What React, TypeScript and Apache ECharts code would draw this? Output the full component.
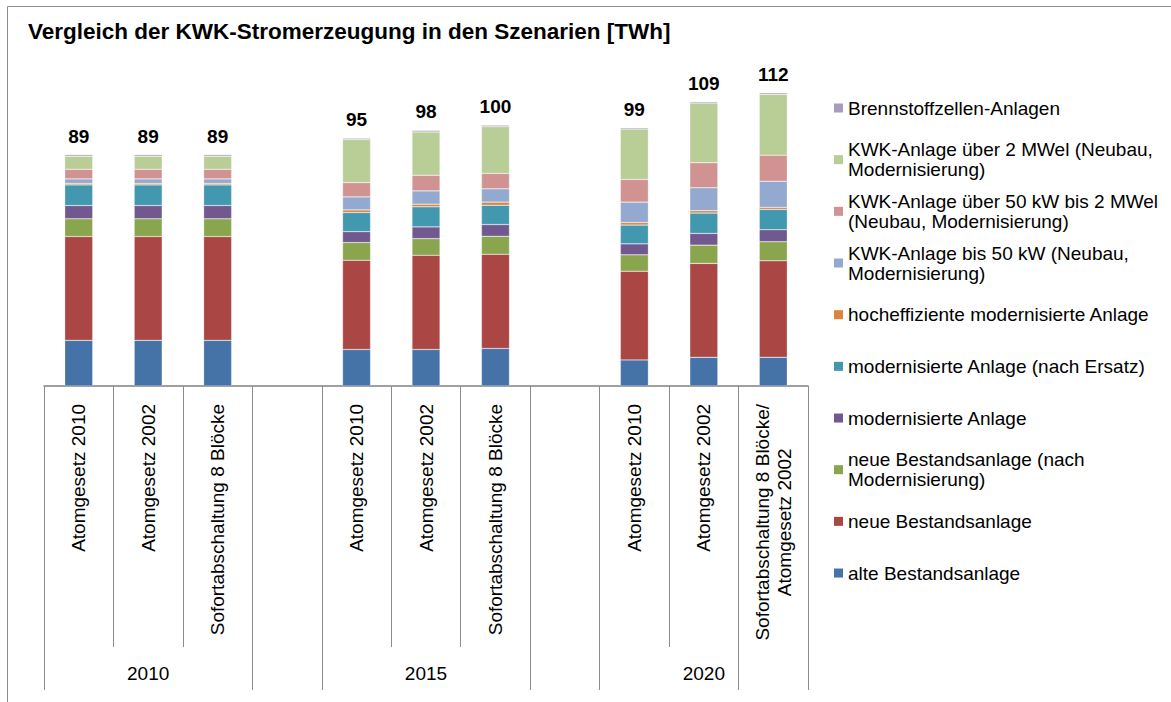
import React, { useEffect, useRef } from 'react';
import * as echarts from 'echarts';

const FONT = '"Liberation Sans", Arial, Helvetica, sans-serif';

const categories = [
  'Atomgesetz 2010', 'Atomgesetz 2002', 'Sofortabschaltung 8 Blöcke', '',
  'Atomgesetz 2010', 'Atomgesetz 2002', 'Sofortabschaltung 8 Blöcke', '',
  'Atomgesetz 2010', 'Atomgesetz 2002', 'Sofortabschaltung 8 Blöcke/\nAtomgesetz 2002',
];
const groupLabels = ['', '2010', '', '', '', '2015', '', '', '', '2020', ''];
const groupBoundaryTicks = [0, 3, 4, 7, 8, 10];

const seriesNames = [
  'alte Bestandsanlage',
  'neue Bestandsanlage',
  'neue Bestandsanlage (nach Modernisierung)',
  'modernisierte Anlage',
  'modernisierte Anlage (nach Ersatz)',
  'hocheffiziente modernisierte Anlage',
  'KWK-Anlage bis 50 kW (Neubau, Modernisierung)',
  'KWK-Anlage über 50 kW bis 2 MWel (Neubau, Modernisierung)',
  'KWK-Anlage über 2 MWel (Neubau, Modernisierung)',
  'Brennstoffzellen-Anlagen',
];
const legendLabels = [
  'alte Bestandsanlage',
  'neue Bestandsanlage',
  'neue Bestandsanlage (nach\nModernisierung)',
  'modernisierte Anlage',
  'modernisierte Anlage (nach Ersatz)',
  'hocheffiziente modernisierte Anlage',
  'KWK-Anlage bis 50 kW (Neubau,\nModernisierung)',
  'KWK-Anlage über 50 kW bis 2 MWel\n(Neubau, Modernisierung)',
  'KWK-Anlage über 2 MWel (Neubau,\nModernisierung)',
  'Brennstoffzellen-Anlagen',
];
const colors = [
  '#4572A7', '#AA4643', '#89A54E', '#71588F', '#4198AF',
  '#DB843D', '#93A9CF', '#D19392', '#B9CD96', '#A99BBD',
];

const alteBestand = [17.5, 17.5, 17.5, null, 14.0, 14.0, 14.4, null, 10.0, 11.0, 11.0];
const neueBestand = [39.8, 39.8, 39.8, null, 34.2, 36.1, 36.1, null, 34.0, 36.0, 37.0];
const neueBestandMod = [6.8, 6.8, 6.8, null, 6.8, 6.4, 6.9, null, 6.3, 7.0, 7.3];
const modernisiert = [5.1, 5.1, 5.1, null, 4.2, 4.5, 4.5, null, 4.2, 4.5, 4.6];
const modernisiertErsatz = [7.9, 7.9, 7.9, null, 7.3, 7.7, 7.4, null, 7.2, 7.8, 7.8];
const hocheffizient = [0.6, 0.6, 0.6, null, 1.0, 1.0, 1.2, null, 1.0, 0.9, 0.8];
const kwkBis50 = [1.7, 1.7, 1.7, null, 5.0, 5.1, 5.1, null, 7.8, 8.8, 10.0];
const kwk50bis2 = [3.7, 3.7, 3.7, null, 5.5, 6.0, 5.9, null, 8.7, 9.6, 10.0];
const kwkUeber2 = [5.0, 5.0, 5.0, null, 16.5, 16.6, 17.9, null, 19.3, 22.9, 23.3];
const brennstoff = [0.6, 0.6, 0.6, null, 0.5, 0.6, 0.6, null, 0.5, 0.5, 0.6];

const seriesValues = [
  alteBestand, neueBestand, neueBestandMod, modernisiert, modernisiertErsatz,
  hocheffizient, kwkBis50, kwk50bis2, kwkUeber2, brennstoff,
];

export default function App() {
  const ref = useRef<HTMLDivElement>(null);
  useEffect(() => {
    document.body.style.margin = '0';
    const chart = echarts.init(ref.current!, null, { renderer: 'svg' });

    const totals = categories.map((_, i) => {
      let s = 0;
      let any = false;
      seriesValues.forEach((arr) => {
        const v = arr[i];
        if (v != null) { s += v; any = true; }
      });
      return any ? s : null;
    });

    const lastIdx = seriesNames.length - 1;
    const series = seriesNames.map((name, si) => ({
      name,
      type: 'bar',
      stack: 'total',
      xAxisIndex: 0,
      yAxisIndex: 0,
      barWidth: 28,
      data: seriesValues[si],
      itemStyle: { color: colors[si], borderColor: 'rgba(255,255,255,0.55)', borderWidth: 0.5 },
      label: si === lastIdx ? {
        show: true,
        position: 'top',
        distance: 9,
        formatter: (p: any) => {
          const t = totals[p.dataIndex];
          return t == null ? '' : String(Math.round(t));
        },
        fontFamily: FONT,
        fontSize: 19,
        fontWeight: 'bold',
        color: '#000',
      } : { show: false },
      emphasis: { disabled: true },
    }));

    const legendOrder = seriesNames.map((_, i) => lastIdx - i);
    const legends = legendOrder.map((si, i) => {
      const twoLine = legendLabels[si].indexOf('\n') >= 0;
      const markerY = 108 + i * 51.67;
      return {
        data: [seriesNames[si]],
        left: 834,
        top: markerY - (twoLine ? 30 : 10),
        orient: 'vertical',
        icon: 'rect',
        itemWidth: 9,
        itemHeight: 9,
        itemGap: 0,
        padding: 0,
        selectedMode: false,
        itemStyle: { borderWidth: 0 },
        formatter: () => legendLabels[si],
        textStyle: {
          fontFamily: FONT,
          fontSize: 19,
          lineHeight: 20,
          color: '#000',
          padding: twoLine ? [20, 0, 0, 0] : 0,
        },
      };
    });

    const option: any = {
      animation: false,
      color: colors,
      title: {
        text: 'Vergleich der KWK-Stromerzeugung in den Szenarien [TWh]',
        left: 28,
        top: 20,
        padding: 0,
        textStyle: { fontFamily: FONT, fontSize: 22.5, fontWeight: 'bold', color: '#000' },
      },
      graphic: [
        {
          type: 'rect',
          z: -10,
          silent: true,
          shape: { x: 7.5, y: 6.5, width: 1400, height: 900 },
          style: { fill: 'none', stroke: '#8c8c8c', lineWidth: 1 },
        },
      ],
      legend: legends,
      grid: {
        left: 44,
        top: 73,
        width: 764,
        height: 313,
        containLabel: false,
        outerBoundsMode: 'none',
      },
      xAxis: [
        {
          type: 'category',
          gridIndex: 0,
          position: 'bottom',
          data: categories,
          axisLine: { show: true, lineStyle: { color: '#808080', width: 1.5 } },
          axisTick: { show: true, interval: 0, length: 261, lineStyle: { color: '#8c8c8c', width: 1 } },
          axisLabel: {
            interval: 0,
            rotate: 90,
            margin: 18,
            fontFamily: FONT,
            fontSize: 19,
            lineHeight: 22,
            color: '#000',
            formatter: (v: string) => v.split('\n').map((l) => `{c|${l}}`).join('\n'),
            rich: {
              c: { align: 'center', fontFamily: FONT, fontSize: 19, lineHeight: 22, color: '#000' },
            },
          },
          splitLine: { show: false },
        },
        {
          type: 'category',
          gridIndex: 0,
          position: 'bottom',
          offset: 0,
          data: groupLabels,
          axisLine: { show: false },
          axisTick: {
            show: true,
            interval: (idx: number) => groupBoundaryTicks.indexOf(idx) >= 0,
            length: 304,
            lineStyle: { color: '#8c8c8c', width: 1 },
          },
          axisLabel: {
            interval: 0,
            margin: 278,
            fontFamily: FONT,
            fontSize: 19,
            color: '#000',
          },
          splitLine: { show: false },
        },
      ],
      yAxis: {
        type: 'value',
        min: 0,
        max: 120,
        show: false,
        splitLine: { show: false },
      },
      series,
    };

    chart.setOption(option);
    return () => chart.dispose();
  }, []);
  return <div ref={ref} style={{ width: 1171, height: 702 }} />;
}
